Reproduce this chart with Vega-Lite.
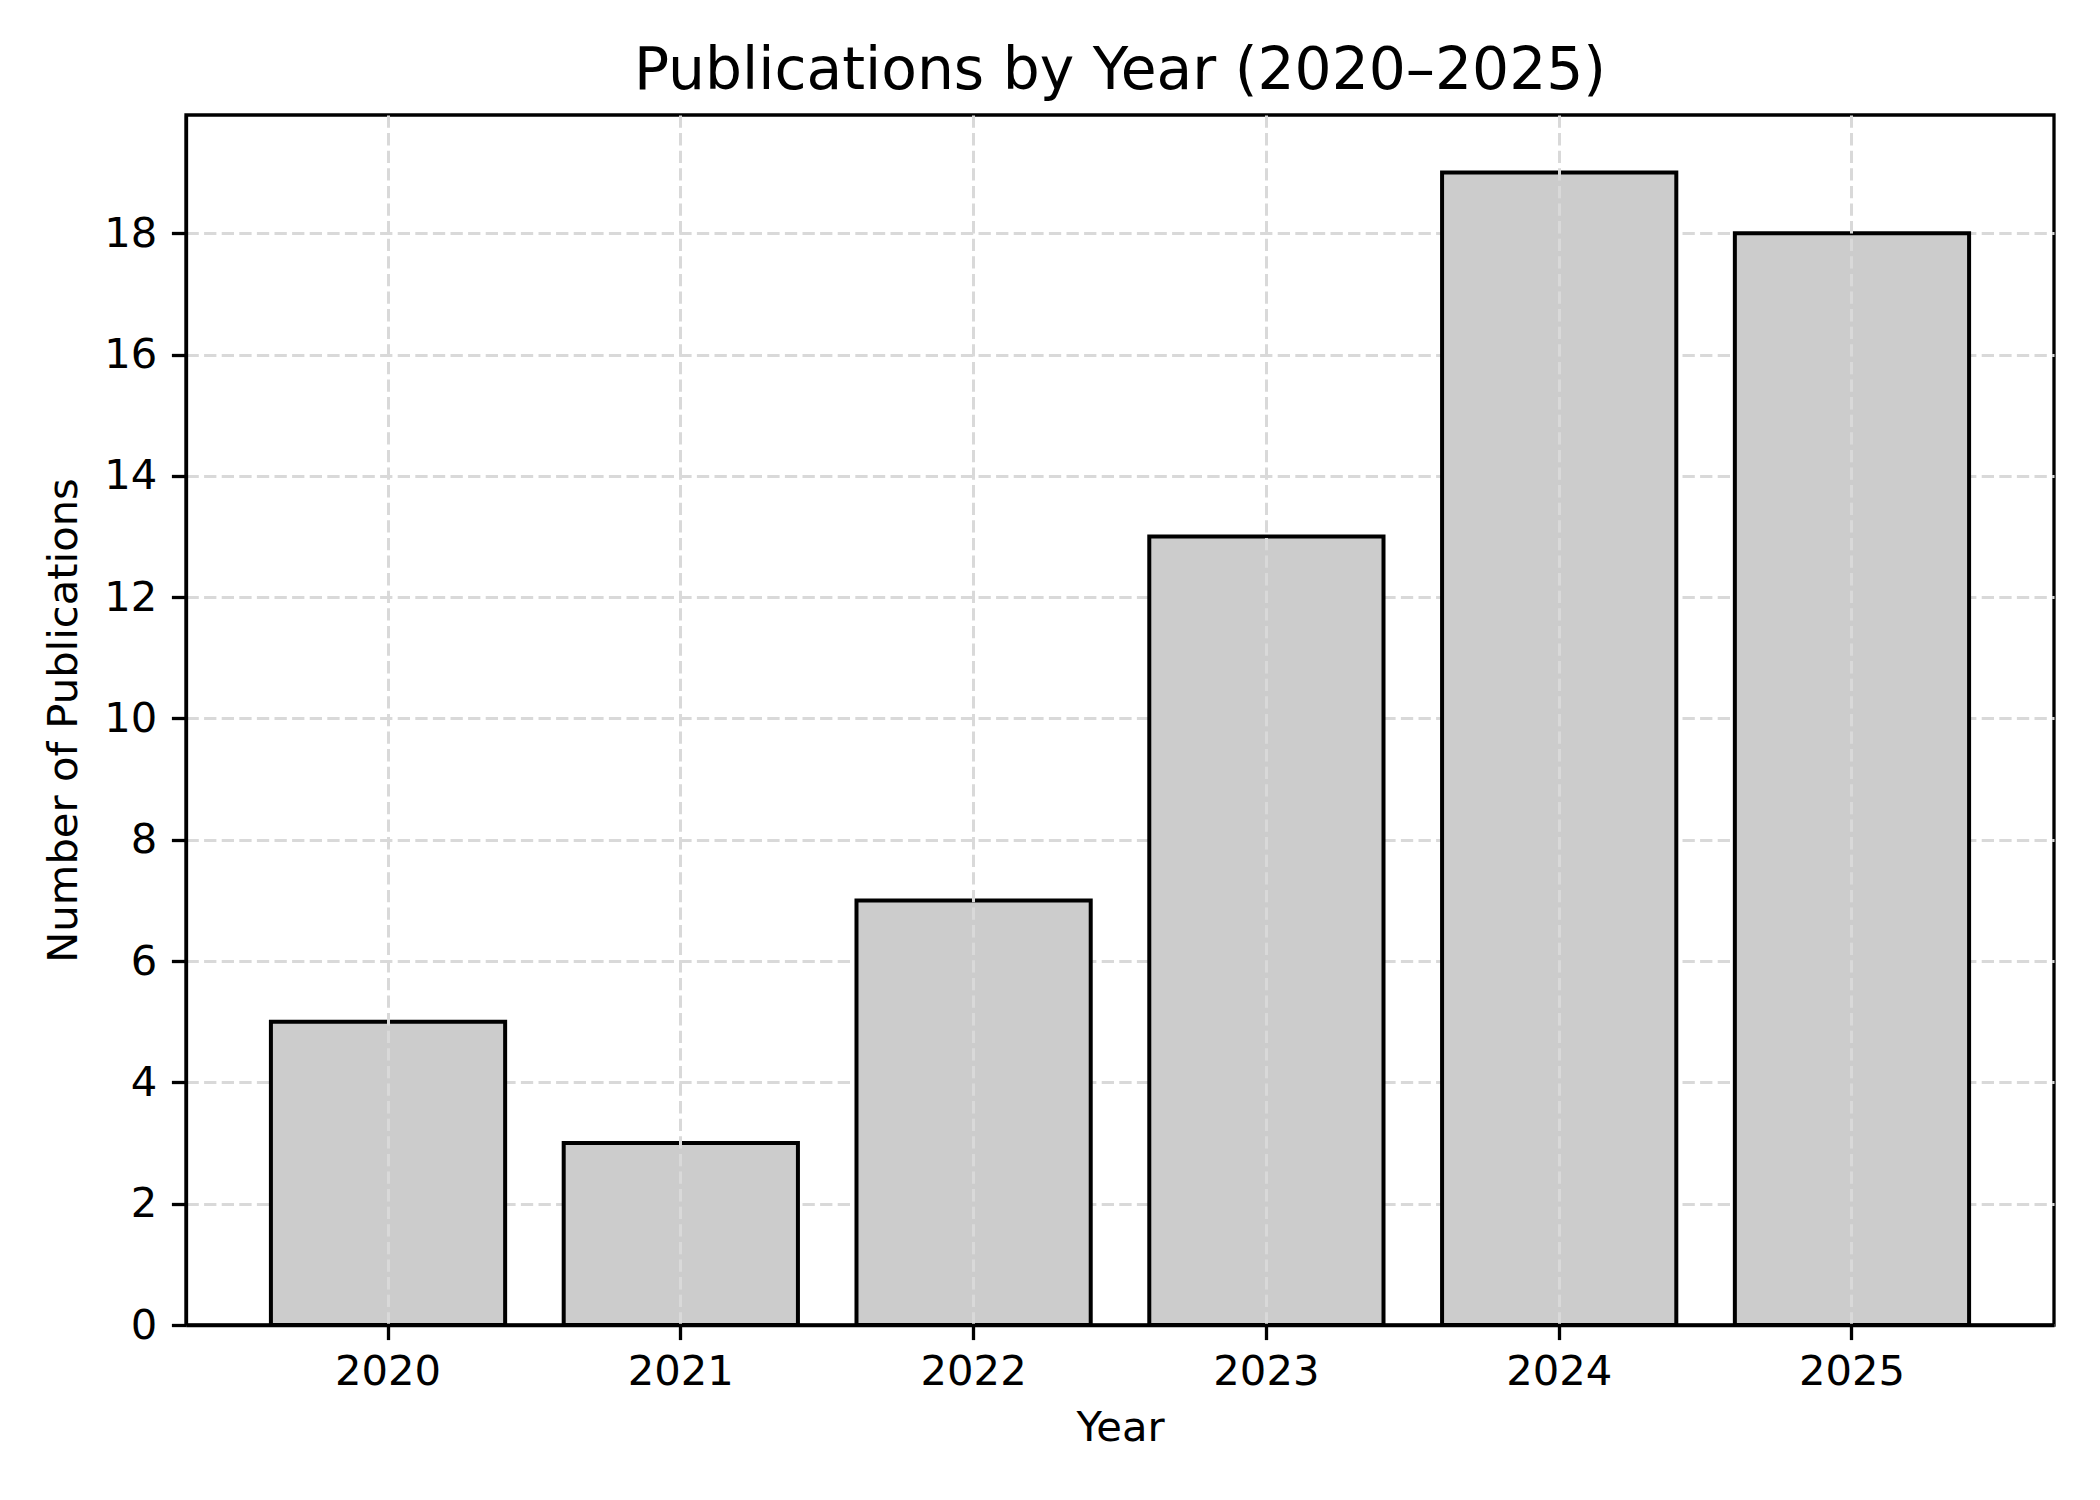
{
  "$schema": "https://vega.github.io/schema/vega-lite/v6.json",
  "autosize": {"type": "none"},
  "padding": {"left": 186, "top": 115, "right": 46, "bottom": 175},
  "width": 1868,
  "height": 1210,
  "background": "white",
  "title": {
    "text": "Publications by Year (2020–2025)",
    "font": "DejaVu Sans",
    "fontSize": 58.3,
    "fontWeight": "normal",
    "color": "black",
    "anchor": "middle",
    "frame": "group",
    "baseline": "alphabetic",
    "offset": -32
  },
  "config": {
    "view": {"stroke": "black", "strokeWidth": 3.3},
    "axis": {
      "labelFont": "DejaVu Sans",
      "titleFont": "DejaVu Sans",
      "labelFontSize": 41.7,
      "titleFontSize": 41.7,
      "titleFontWeight": "normal",
      "labelColor": "black",
      "titleColor": "black",
      "tickColor": "black",
      "tickWidth": 3.3,
      "tickSize": 14.6,
      "domain": true,
      "domainColor": "black",
      "domainWidth": 3.3,
      "grid": true,
      "gridColor": "#d9d9d9",
      "gridWidth": 3.0,
      "gridDash": [12.3, 5.3]
    }
  },
  "data": {
    "values": [
      {"Year": "2020", "Count": 5},
      {"Year": "2021", "Count": 3},
      {"Year": "2022", "Count": 7},
      {"Year": "2023", "Count": 13},
      {"Year": "2024", "Count": 19},
      {"Year": "2025", "Count": 18}
    ]
  },
  "mark": {"type": "bar", "fill": "#cccccc", "stroke": "black", "strokeWidth": 4},
  "encoding": {
    "x": {
      "field": "Year",
      "type": "ordinal",
      "scale": {"paddingInner": 0.2, "paddingOuter": 0.29},
      "axis": {"labelAngle": 0, "labelPadding": 12, "title": "Year", "titlePadding": 14, "zindex": 1}
    },
    "y": {
      "field": "Count",
      "type": "quantitative",
      "scale": {"domain": [0, 19.95], "nice": false, "zero": true},
      "axis": {"values": [0, 2, 4, 6, 8, 10, 12, 14, 16, 18], "labelPadding": 14.6, "title": "Number of Publications", "titlePadding": 18}
    }
  }
}
